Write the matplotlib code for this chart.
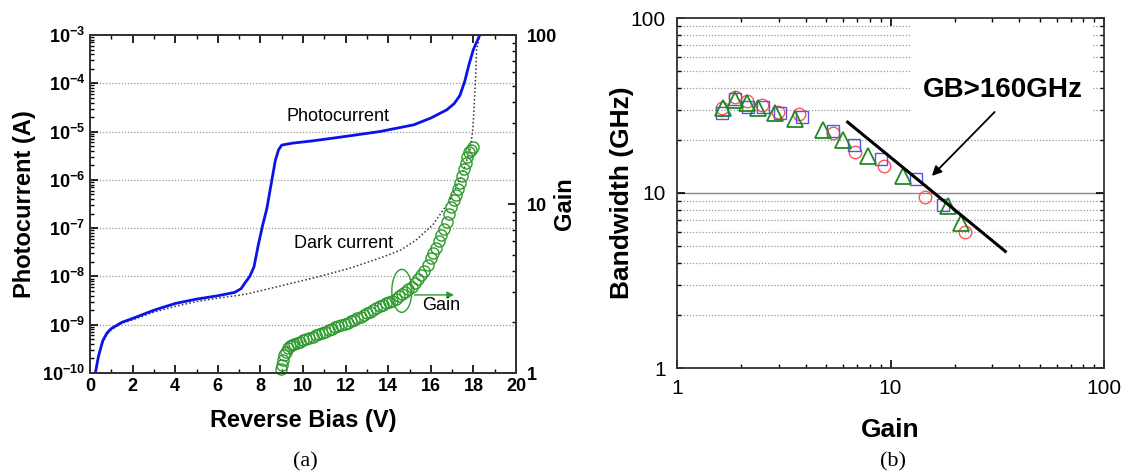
import numpy as np
import matplotlib
matplotlib.use("Agg")
import matplotlib.pyplot as plt
from matplotlib.patches import Ellipse, Rectangle
from matplotlib.ticker import LogLocator, FixedLocator, NullFormatter

plt.rcParams['font.family'] = ['Liberation Sans', 'DejaVu Sans']
plt.rcParams['mathtext.fontset'] = 'custom'
plt.rcParams['mathtext.rm'] = 'Liberation Sans'
plt.rcParams['mathtext.bf'] = 'Liberation Sans:bold'

# (a) photocurrent (V, A)
photo_v = [0.25, 0.4, 0.6, 0.8, 1.0, 1.5, 2.0, 3.0, 4.0, 5.0, 6.0, 6.8, 7.1, 7.3,
           7.5, 7.7, 7.9, 8.1, 8.3, 8.5, 8.7, 8.85, 9.0, 9.5, 10.5, 12.0, 13.6,
           15.2, 16.0, 16.75, 17.1, 17.37, 17.6, 17.8, 18.0, 18.3]
photo_log = [-10.0, -9.65, -9.33, -9.17, -9.08, -8.95, -8.87, -8.7, -8.56, -8.47,
             -8.4, -8.33, -8.25, -8.12, -8.0, -7.8, -7.35, -6.95, -6.6, -6.1,
             -5.6, -5.38, -5.28, -5.24, -5.19, -5.1, -5.0, -4.86, -4.72, -4.55,
             -4.42, -4.25, -3.95, -3.6, -3.3, -3.0]

dark_v = [0.25, 0.5, 0.8, 1.0, 1.5, 2.0, 3.0, 4.0, 5.0, 6.0, 7.0, 7.5, 9.1, 10.6,
          12.2, 13.8, 14.6, 15.3, 16.1, 16.9, 17.5, 17.84, 17.97, 18.02, 18.1,
          18.15, 18.3]
dark_log = [-10.0, -9.45, -9.2, -9.1, -8.97, -8.9, -8.74, -8.62, -8.52, -8.45,
            -8.39, -8.35, -8.18, -8.02, -7.83, -7.59, -7.45, -7.25, -6.93, -6.42,
            -5.86, -5.38, -4.97, -4.6, -3.9, -3.31, -3.0]

gain_v = [8.98, 9.0, 9.05, 9.12, 9.2, 9.3, 9.4, 9.5, 9.6, 9.72, 9.85, 10.0, 10.15,
          10.3, 10.45, 10.6, 10.75, 10.9, 11.05, 11.2, 11.35, 11.5, 11.65, 11.8,
          11.95, 12.1, 12.25, 12.4, 12.55, 12.7, 12.85, 13.0, 13.15, 13.3, 13.45,
          13.6, 13.75, 13.9, 14.05, 14.2, 14.35, 14.5, 14.65, 14.8, 14.95, 15.1,
          15.25, 15.4, 15.55, 15.7, 15.85, 16.0, 16.12, 16.25, 16.38, 16.5, 16.62,
          16.74, 16.86, 16.97, 17.08, 17.18, 17.28, 17.37, 17.46, 17.55, 17.63,
          17.71, 17.8, 17.88, 17.97]
gain_val = [1.05, 1.12, 1.19, 1.27, 1.34, 1.40, 1.44, 1.46, 1.48, 1.51, 1.53, 1.56,
            1.59, 1.61, 1.64, 1.67, 1.70, 1.73, 1.76, 1.79, 1.82, 1.86, 1.89, 1.92,
            1.95, 1.98, 2.02, 2.07, 2.11, 2.15, 2.20, 2.25, 2.31, 2.37, 2.42, 2.48,
            2.53, 2.58, 2.63, 2.68, 2.75, 2.84, 2.93, 3.02, 3.13, 3.24, 3.41, 3.60,
            3.80, 4.00, 4.35, 4.78, 5.10, 5.48, 6.05, 6.55, 7.1, 7.8, 8.7, 9.6, 10.5,
            11.3, 12.2, 13.3, 14.6, 16.2, 17.6, 19.0, 20.3, 21.0, 21.8]

# (b) bandwidth vs gain, three devices
circ_gain = [1.62, 1.87, 2.13, 2.49, 2.98, 3.73, 5.36, 6.82, 9.33, 14.5, 22.3]
circ_bw = [30.5, 35.2, 33.6, 31.8, 29.2, 28.2, 21.9, 17.1, 14.3, 9.53, 5.96]
sq_gain = [1.62, 1.87, 2.16, 2.52, 3.04, 3.86, 5.40, 6.75, 9.0, 13.1, 17.7]
sq_bw = [28.8, 34.4, 31.1, 31.1, 28.5, 27.1, 22.6, 18.8, 15.6, 12.0, 8.54]
tri_gain = [1.64, 1.87, 2.12, 2.40, 2.88, 3.57, 4.85, 6.0, 7.87, 11.5, 18.5, 21.3]
tri_bw = [30.5, 34.0, 32.8, 30.7, 28.8, 26.4, 22.9, 20.1, 16.3, 12.5, 8.46, 6.77]
gb_gain = [6.3, 34.5]
gb_bw = [25.4, 4.64]

fig = plt.figure(figsize=(11.27, 4.76), dpi=100)
W, H = 1127, 476


def px_axes(l, t, r, b):
    return fig.add_axes([l / W, 1 - b / H, (r - l) / W, (b - t) / H])


def style_spines(ax):
    for s in ax.spines.values():
        s.set_linewidth(1.3)
        s.set_color('#333333')


# ---------- (a) ----------
ax = px_axes(90, 35, 516, 373)
ax.semilogy(photo_v, 10 ** np.array(photo_log), color='#0a14e6', lw=2.0, zorder=3)
ax.semilogy(dark_v, 10 ** np.array(dark_log), color='#333333', lw=1.1,
            ls=(0, (1, 1.5)), zorder=2)
ax.set_xlim(0, 20)
ax.set_ylim(1e-10, 1e-3)
ax.set_xticks(range(0, 21, 2))
ax.xaxis.set_minor_locator(FixedLocator(range(1, 20, 2)))
ax.set_xticklabels([str(v) for v in range(0, 21, 2)], fontsize=13, fontweight='bold')
ax.yaxis.set_major_locator(FixedLocator([10.0 ** e for e in range(-10, -2)]))
ax.set_yticklabels([r'$\mathbf{10^{%d}}$' % e for e in range(-10, -2)], fontsize=13)
ax.yaxis.set_minor_locator(LogLocator(base=10, subs=np.arange(2, 10), numticks=20))
ax.yaxis.set_minor_formatter(NullFormatter())
ax.tick_params(which='both', direction='in', top=True)
ax.tick_params(which='major', length=6, width=1.2)
ax.tick_params(which='minor', length=3, width=1.0)
ax.tick_params(axis='y', right=False)
for e in range(-9, -3):
    ax.axhline(10.0 ** e, color='#999999', lw=0.9, ls=(0, (1, 1.5)), zorder=1)
ax.set_xlabel('Reverse Bias (V)', fontsize=17, fontweight='bold', labelpad=10)
ax.set_ylabel('Photocurrent (A)', fontsize=17, fontweight='bold', labelpad=4)
style_spines(ax)

ax.text(0.583, 0.760, 'Photocurrent', transform=ax.transAxes, fontsize=13,
        ha='center', va='center')
ax.text(0.595, 0.384, 'Dark current', transform=ax.transAxes, fontsize=13,
        ha='center', va='center')

ax2 = ax.twinx()
ax2.semilogy(gain_v, gain_val, ls='none', marker='o', ms=8, mfc='none',
             mec='#2e9a2e', mew=1.0, clip_on=False)
ax2.set_ylim(1, 100)
ax2.yaxis.set_major_locator(FixedLocator([1, 10, 100]))
ax2.set_yticklabels(['1', '10', '100'], fontsize=13, fontweight='bold')
ax2.yaxis.set_minor_locator(LogLocator(base=10, subs=np.arange(2, 10), numticks=20))
ax2.yaxis.set_minor_formatter(NullFormatter())
ax2.tick_params(which='both', direction='in')
ax2.tick_params(which='major', length=6, width=1.2, pad=8)
ax2.tick_params(which='minor', length=3, width=1.0)
ax2.set_ylabel('Gain', fontsize=17, fontweight='bold', labelpad=-3)
style_spines(ax2)

ax2.add_patch(Ellipse((0.732, 0.243), 0.047, 0.127, transform=ax2.transAxes,
                      fill=False, ec='#2e9a2e', lw=1.0))
ax2.annotate('', xy=(0.861, 0.231), xytext=(0.755, 0.231),
             xycoords='axes fraction', textcoords='axes fraction',
             arrowprops=dict(arrowstyle='-|>', color='#2e9a2e', lw=1.0,
                             mutation_scale=10))
ax2.text(0.825, 0.201, 'Gain', transform=ax2.transAxes, fontsize=13,
         ha='center', va='center')

fig.text(305 / W, 1 - 462 / H, '(a)', fontsize=16, family='Liberation Serif',
         ha='center', va='center')

# ---------- (b) ----------
bx = px_axes(677, 18, 1104, 368)
bx.set_xscale('log')
bx.set_yscale('log')
bx.set_xlim(1, 100)
bx.set_ylim(1, 100)
for d in [1, 10]:
    for m in range(2, 10):
        bx.axhline(d * m, color='#999999', lw=0.9, ls=(0, (1, 1.5)), zorder=0.5)
bx.axhline(10, color='#888888', lw=1.0, zorder=0.5)
bx.add_patch(Rectangle((0.546, 0.70), 0.425, 0.30, transform=bx.transAxes,
                       facecolor='white', edgecolor='none', zorder=0.8))

bx.plot(circ_gain, circ_bw, ls='none', marker='o', ms=9, mfc='none',
        mec='#ff5555', mew=1.0, zorder=2)
bx.plot(sq_gain, sq_bw, ls='none', marker='s', ms=8.5, mfc='none',
        mec='#5555ee', mew=1.0, zorder=3)
bx.plot(tri_gain, tri_bw, ls='none', marker='^', ms=11, mfc='none',
        mec='#1f8a1f', mew=1.3, zorder=4)
bx.plot(gb_gain, gb_bw, color='black', lw=2.2, zorder=5)

bx.annotate('', xy=(15.3, 12.2), xytext=(31.4, 29.8),
            arrowprops=dict(arrowstyle='-|>', color='black', lw=1.3,
                            mutation_scale=14), zorder=6)
bx.text(14.2, 38.8, 'GB>160GHz', fontsize=20, fontweight='bold',
        ha='left', va='center', zorder=6)

bx.xaxis.set_major_locator(FixedLocator([1, 10, 100]))
bx.set_xticklabels(['1', '10', '100'], fontsize=15)
bx.yaxis.set_major_locator(FixedLocator([1, 10, 100]))
bx.set_yticklabels(['1', '10', '100'], fontsize=15)
for a in (bx.xaxis, bx.yaxis):
    a.set_minor_locator(LogLocator(base=10, subs=np.arange(2, 10), numticks=20))
    a.set_minor_formatter(NullFormatter())
bx.tick_params(which='both', direction='in', top=True, right=True)
bx.tick_params(which='major', length=6, width=1.2, pad=8)
bx.tick_params(which='minor', length=3, width=1.0)
bx.set_xlabel('Gain', fontsize=19, fontweight='bold', labelpad=14)
bx.set_ylabel('Bandwidth (GHz)', fontsize=19, fontweight='bold', labelpad=-2)
style_spines(bx)

fig.text(893 / W, 1 - 462 / H, '(b)', fontsize=16, family='Liberation Serif',
         ha='center', va='center')

fig.savefig('out.png', dpi=100)
